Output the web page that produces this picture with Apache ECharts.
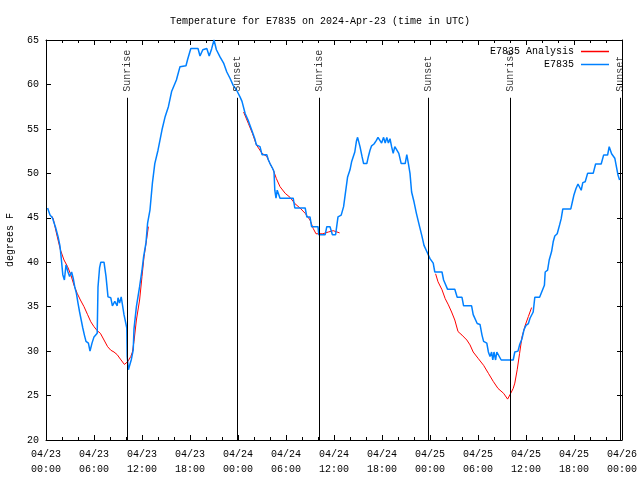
<!DOCTYPE html>
<html>
<head>
<meta charset="utf-8">
<script src="https://cdn.jsdelivr.net/npm/echarts@6/dist/echarts.min.js"></script>
<style>html,body{margin:0;padding:0;background:#fff}#c{width:640px;height:480px}</style>
</head>
<body>
<div id="c"></div>
<script>
// Hours since 2024-04-23 00:00 UTC
var tickLabels = ['04/23\n00:00','04/23\n06:00','04/23\n12:00','04/23\n18:00','04/24\n00:00','04/24\n06:00','04/24\n12:00','04/24\n18:00','04/25\n00:00','04/25\n06:00','04/25\n12:00','04/25\n18:00','04/26\n00:00'];

var blueTime = [0.2,0.5,0.8,1.0,1.2,1.5,1.75,1.9,2.1,2.3,2.5,2.75,2.95,3.2,3.4,3.6,3.8,4.0,4.2,4.4,4.6,4.8,5.0,5.3,5.5,5.75,6.0,6.4,6.5,6.7,6.85,7.25,7.5,7.75,8.1,8.3,8.6,8.9,9.0,9.2,9.4,9.65,9.75,10.0,10.1,10.15,10.3,10.5,10.65,10.9,11.0,11.3,11.7,12.0,12.2,12.5,12.7,13.0,13.3,13.6,14.0,14.5,14.9,15.3,15.7,16.3,16.75,17.5,17.7,18.1,19.0,19.25,19.6,20.1,20.4,20.7,21.0,21.3,21.75,22.2,22.6,23.0,23.4,23.8,24.25,24.5,24.9,25.3,25.7,26.1,26.3,26.75,27.0,27.6,27.8,28.0,28.3,28.5,28.6,28.75,28.9,29.1,29.25,30.9,31.1,32.4,32.6,33.0,33.2,34.0,34.1,34.9,35.1,35.5,35.8,36.2,36.5,36.9,37.2,37.4,37.7,38.0,38.2,38.6,38.8,38.95,39.25,39.5,39.7,40.1,40.3,40.5,40.7,41.0,41.3,41.5,41.75,41.95,42.2,42.4,42.6,42.8,43.0,43.2,43.4,43.6,43.8,44.1,44.4,44.9,45.1,45.3,45.5,45.7,46.0,46.3,46.7,47.0,47.25,47.6,48.0,48.4,48.6,49.5,49.7,49.9,50.2,51.1,51.4,52.0,52.2,53.2,53.4,53.6,53.9,54.25,54.5,54.7,55.1,55.3,55.5,55.7,55.85,56.0,56.2,56.35,56.6,56.9,58.4,58.6,59.0,59.2,59.5,59.75,60.0,60.3,60.5,60.7,60.9,61.1,61.7,61.9,62.1,62.3,62.4,62.7,62.9,63.2,63.4,63.6,63.9,64.2,64.4,64.6,65.6,65.8,66.0,66.25,66.5,66.7,66.9,67.1,67.4,67.7,68.4,68.7,69.4,69.7,70.2,70.4,70.7,71.1,71.3,71.5,71.7];
var blueTemp = [46.1,45.3,45.0,44.8,43.9,42.9,41.8,40.5,38.6,38.0,39.7,38.9,38.4,38.9,38.2,37.2,36.5,35.4,34.4,33.5,32.6,31.8,31.1,30.9,30.0,30.9,31.6,32.0,37.2,39.4,40.0,40.0,38.4,36.1,36.0,35.1,35.6,35.1,36.0,35.4,36.1,36.1,34.1,34.1,32.6,29.4,27.9,27.9,29.0,30.1,32.5,35.0,37.25,39.1,40.6,42.2,44.4,45.9,48.9,51.1,52.6,54.9,56.4,57.5,59.2,60.5,62.0,62.1,62.8,64.05,64.05,63.2,63.9,64.05,63.2,64.0,65.0,63.9,63.1,62.4,61.4,60.7,59.9,59.4,58.6,58.1,56.7,55.9,54.9,53.9,53.2,53.0,52.1,52.1,51.5,51.1,50.6,50.2,48.1,47.2,48.1,47.6,47.2,47.2,46.1,46.1,45.1,45.1,44.0,44.0,43.1,43.1,44.0,44.0,43.1,43.1,45.1,45.3,46.25,47.6,49.6,50.4,51.3,52.4,53.6,54.05,53.0,51.9,51.1,51.1,51.9,52.6,53.1,53.3,53.7,54.05,54.05,53.4,54.05,53.4,54.05,53.4,53.9,53.0,52.25,53.0,53.0,52.25,51.1,51.1,52.1,51.1,50.0,47.9,46.8,45.5,44.0,42.9,41.9,41.2,40.4,39.9,38.9,38.9,38.0,37.8,36.95,36.95,36.05,36.05,35.1,35.1,34.1,33.9,33.1,33.0,31.8,31.1,30.9,29.9,29.4,29.9,29.0,29.9,29.0,29.9,29.9,29.0,29.0,29.9,30.0,30.7,31.4,32.4,32.9,33.1,33.7,33.9,34.4,36.05,36.05,36.5,36.95,37.4,38.9,39.1,40.25,41.2,42.3,42.95,43.2,44.2,44.9,46.0,46.0,46.8,47.6,48.3,48.8,48.95,48.1,48.95,49.05,50.0,50.0,51.05,51.05,52.05,52.05,53.0,52.2,51.7,50.75,49.8,49.25];

var redTime = [0.7,0.9,1.4,1.8,2.25,2.7,3.1,3.5,3.9,4.3,4.75,5.2,5.6,6.0,6.4,6.8,7.25,7.7,8.1,8.5,8.9,9.3,9.8,10.0,10.2,10.6,10.8,11.0,11.3,11.7,12.0,12.25,12.5,12.8,
  18.0,
  24.7,25.3,25.8,26.3,27.0,27.6,28.0,28.4,28.8,29.25,29.9,30.5,31.1,31.75,32.4,33.0,33.4,33.75,34.0,34.6,35.3,35.9,36.7,
  42.0,
  48.7,49.0,49.5,49.9,50.3,50.7,51.1,51.5,52.0,52.6,53.0,53.4,54.0,54.7,55.3,55.9,56.5,57.2,57.7,58.0,58.4,58.6,58.9,59.2,59.5,59.9,60.3,60.7];
var redTemp = [45.2,44.9,42.9,41.4,40.25,39.5,38.6,37.4,36.5,35.75,35.0,34.1,33.3,32.75,32.3,32.0,31.25,30.5,30.1,29.9,29.6,29.1,28.5,28.3,28.8,29.4,29.9,31.1,33.5,35.75,38.4,40.6,42.1,44.0,
  null,
  56.9,55.6,54.5,53.2,52.25,51.9,51.1,50.4,49.4,48.5,47.75,47.3,46.6,46.1,45.5,44.75,43.8,43.2,43.0,43.2,43.4,43.55,43.3,
  null,
  38.7,37.8,36.9,35.9,35.2,34.4,33.5,32.2,31.8,31.25,30.7,29.9,29.2,28.4,27.5,26.6,25.8,25.25,24.6,25.1,25.8,26.4,27.9,29.75,31.6,32.9,33.9,34.9];

var eventTime = [10.125, 23.875, 34.125, 47.75, 58.0, 71.75];
var eventName = ['Sunrise','Sunset','Sunrise','Sunset','Sunrise','Sunset'];
var eventTop = 58.5;

function pairs(t, v){ return t.map(function(x,i){ return [x, v[i]]; }); }

var FONT = 'Liberation Mono';
var chart = echarts.init(document.getElementById('c'), null, {renderer:'canvas'});
var xCommon = {
  type:'value', min:0, max:72, interval:6,
  axisLine:{show:true, onZero:false, lineStyle:{color:'#000', width:1}},
  axisTick:{show:true, inside:true, length:5, lineStyle:{color:'#000'}},
  minorTick:{show:true, splitNumber:3, length:3, lineStyle:{color:'#000'}},
  splitLine:{show:false}
};
var yCommon = {
  type:'value', min:20, max:65, interval:5,
  axisLine:{show:true, onZero:false, lineStyle:{color:'#000', width:1}},
  axisTick:{show:true, inside:true, length:5, lineStyle:{color:'#000'}},
  splitLine:{show:false}
};
var option = {
  animation:false,
  backgroundColor:'#fff',
  textStyle:{fontFamily:FONT},
  title:{text:'Temperature for E7835 on 2024-Apr-23 (time in UTC)', left:'center', top:11,
    textStyle:{fontFamily:FONT, fontSize:10, fontWeight:'normal', color:'#000'}},
  legend:{orient:'vertical', right:31, top:46, padding:0, align:'right', itemWidth:28, itemHeight:1.5, itemGap:2,
    data:[{name:'E7835 Analysis', icon:'rect'},{name:'E7835', icon:'rect'}],
    textStyle:{fontFamily:FONT, fontSize:10, color:'#000', padding:[0,2,0,0], lineHeight:11}},
  grid:{left:46, right:18, top:40, bottom:40, containLabel:false, outerBoundsMode:'none'},
  xAxis:[
    Object.assign({}, xCommon, {position:'bottom',
      axisLabel:{show:true, margin:7, color:'#000', fontFamily:FONT, fontSize:10, lineHeight:15,
        formatter:function(v){ return tickLabels[Math.round(v/6)]; }}}),
    Object.assign({}, xCommon, {position:'top', axisLabel:{show:false}})
  ],
  yAxis:[
    Object.assign({}, yCommon, {position:'left', name:'degrees F', nameLocation:'middle', nameGap:31,
      nameTextStyle:{fontFamily:FONT, fontSize:10, color:'#000'},
      axisLabel:{show:true, margin:7, color:'#000', fontFamily:FONT, fontSize:10}}),
    Object.assign({}, yCommon, {position:'right', axisLabel:{show:false}})
  ],
  series:[
    {name:'E7835 Analysis', type:'line', data:pairs(redTime, redTemp), symbol:'none', connectNulls:false,
      lineStyle:{color:'#ff0000', width:1}, itemStyle:{color:'#ff0000'}, z:2},
    {name:'E7835', type:'line', data:pairs(blueTime, blueTemp), symbol:'none',
      lineStyle:{color:'#0080ff', width:1.5}, itemStyle:{color:'#0080ff'}, z:3},
    {name:'events', type:'scatter', symbolSize:0, z:4,
      data:eventTime.map(function(t,i){ return {value:[t, eventTop], name:eventName[i]}; }),
      label:{show:true, position:'top', distance:6, rotate:90, align:'left', verticalAlign:'middle',
        formatter:'{b}', color:'#000', fontFamily:FONT, fontSize:10},
      markLine:{silent:true, symbol:['none','none'], animation:false,
        lineStyle:{color:'#000', width:1, type:'solid'}, label:{show:false},
        data:eventTime.map(function(t){ return [{coord:[t,20]},{coord:[t,eventTop]}]; })}
    }
  ]
};
chart.setOption(option);
</script>
</body>
</html>
